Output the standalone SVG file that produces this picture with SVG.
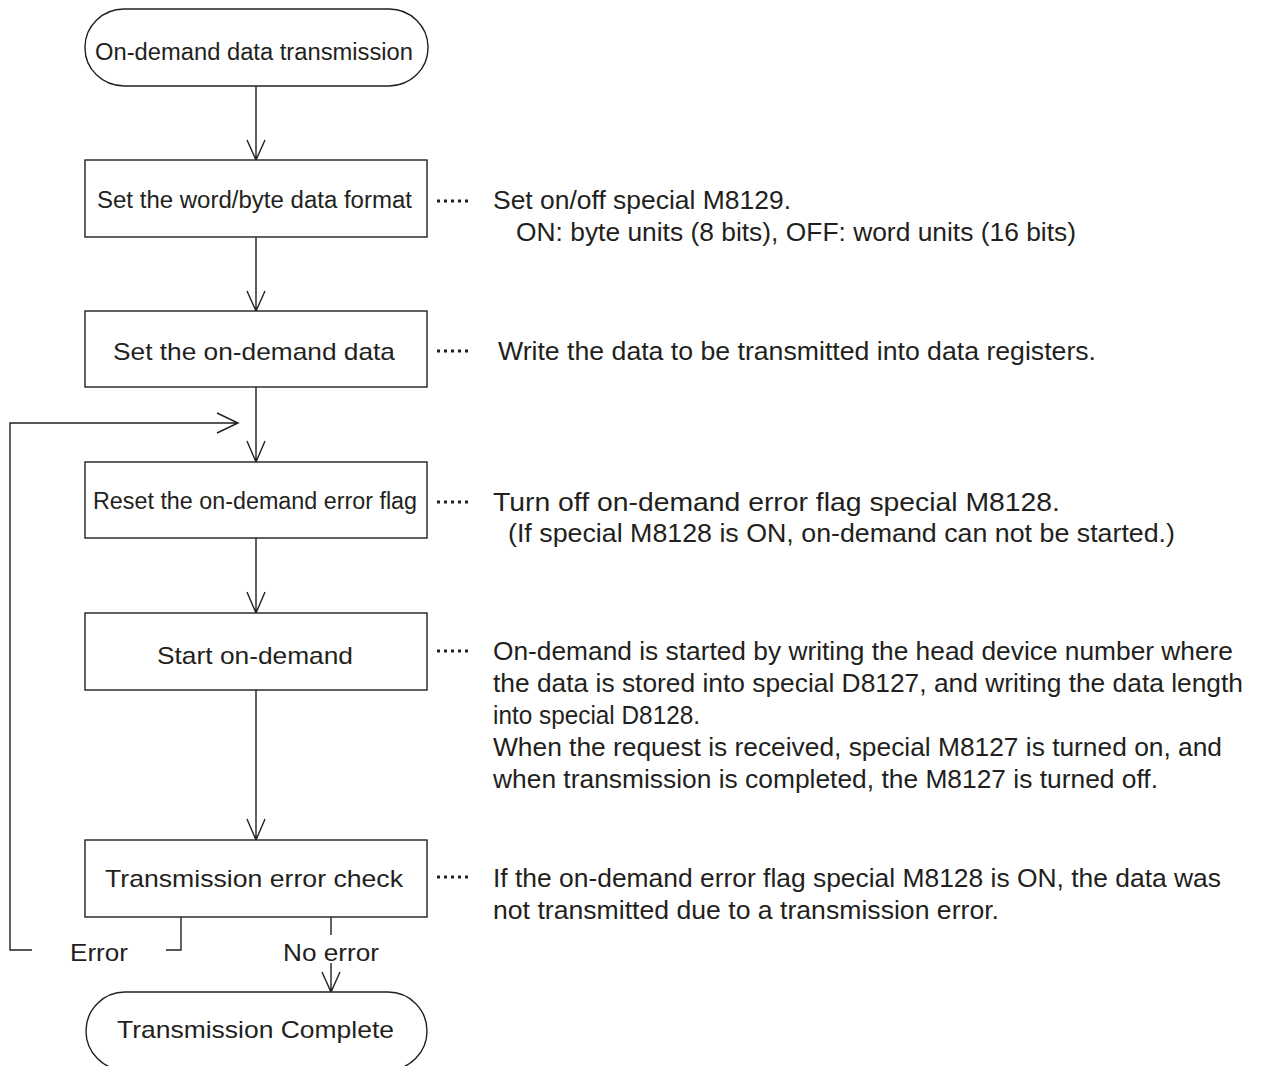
<svg xmlns="http://www.w3.org/2000/svg" width="1261" height="1066" viewBox="0 0 1261 1066">
<style>
.shape{fill:#fff;stroke:#231f20;stroke-width:1.4}
.ln{fill:none;stroke:#231f20;stroke-width:1.4}
.dots{fill:none;stroke:#231f20;stroke-width:3;stroke-dasharray:3 4}
text{font-family:"Liberation Sans",Arial,sans-serif;fill:#231f20}
.n{font-size:23.5px}
.b{font-size:24px}
.d{font-size:25px}
</style>
<rect width="1261" height="1066" fill="#fff"/>
<g id="connectors">
<path class="ln" d="M256 86 V160 M247 140 L256 160 L265 140"/>
<path class="ln" d="M256 237 V311 M247 291 L256 311 L265 291"/>
<path class="ln" d="M256 387 V462 M247 441 L256 462 L265 441"/>
<path class="ln" d="M256 538 V613 M247 592 L256 613 L265 592"/>
<path class="ln" d="M256 690 V840 M247 819 L256 840 L265 819"/>
<path class="ln" d="M181 917 V950 H166"/>
<path class="ln" d="M32 950 H10 V423 H238 M217 413 L238 423 L217 433"/>
<path class="ln" d="M331 917 V935 M331 963 V992 M322 972 L331 992 L340 972"/>
<text class="b" x="70" y="961" textLength="58" lengthAdjust="spacingAndGlyphs">Error</text>
<text class="b" x="283" y="961" textLength="96" lengthAdjust="spacingAndGlyphs">No error</text>
</g>
<g id="start">
<rect class="shape" x="85" y="9" width="343" height="77" rx="39" ry="38"/>
<text class="n" x="95" y="60" textLength="318" lengthAdjust="spacingAndGlyphs">On-demand data transmission</text>
</g>
<g id="format">
<rect class="shape" x="85" y="160" width="342" height="77"/>
<text class="n" x="97" y="208" textLength="315" lengthAdjust="spacingAndGlyphs">Set the word/byte data format</text>
<line class="dots" x1="437" y1="201" x2="469" y2="201"/>
<text class="d" x="493" y="209" textLength="298" lengthAdjust="spacingAndGlyphs">Set on/off special M8129.</text>
<text class="d" x="516" y="241" textLength="560" lengthAdjust="spacingAndGlyphs">ON: byte units (8 bits), OFF: word units (16 bits)</text>
</g>
<g id="setdata">
<rect class="shape" x="85" y="311" width="342" height="76"/>
<text class="b" x="113" y="360" textLength="282" lengthAdjust="spacingAndGlyphs">Set the on-demand data</text>
<line class="dots" x1="437" y1="351" x2="469" y2="351"/>
<text class="d" x="498" y="360" textLength="598" lengthAdjust="spacingAndGlyphs">Write the data to be transmitted into data registers.</text>
</g>
<g id="reset">
<rect class="shape" x="85" y="462" width="342" height="76"/>
<text class="n" x="93" y="509" textLength="324" lengthAdjust="spacingAndGlyphs">Reset the on-demand error flag</text>
<line class="dots" x1="437" y1="502" x2="469" y2="502"/>
<text class="d" x="493" y="511" textLength="567" lengthAdjust="spacingAndGlyphs">Turn off on-demand error flag special M8128.</text>
<text class="d" x="508" y="542" textLength="667" lengthAdjust="spacingAndGlyphs">(If special M8128 is ON, on-demand can not be started.)</text>
</g>
<g id="start-od">
<rect class="shape" x="85" y="613" width="342" height="77"/>
<text class="b" x="157" y="664" textLength="196" lengthAdjust="spacingAndGlyphs">Start on-demand</text>
<line class="dots" x1="437" y1="651" x2="469" y2="651"/>
<text class="d" x="493" y="660" textLength="740" lengthAdjust="spacingAndGlyphs">On-demand is started by writing the head device number where</text>
<text class="d" x="493" y="692" textLength="750" lengthAdjust="spacingAndGlyphs">the data is stored into special D8127, and writing the data length</text>
<text class="d" x="493" y="724" textLength="207" lengthAdjust="spacingAndGlyphs">into special D8128.</text>
<text class="d" x="493" y="756" textLength="729" lengthAdjust="spacingAndGlyphs">When the request is received, special M8127 is turned on, and</text>
<text class="d" x="493" y="788" textLength="665" lengthAdjust="spacingAndGlyphs">when transmission is completed, the M8127 is turned off.</text>
</g>
<g id="check">
<rect class="shape" x="85" y="840" width="342" height="77"/>
<text class="b" x="105" y="887" textLength="298" lengthAdjust="spacingAndGlyphs">Transmission error check</text>
<line class="dots" x1="437" y1="877" x2="469" y2="877"/>
<text class="d" x="493" y="887" textLength="728" lengthAdjust="spacingAndGlyphs">If the on-demand error flag special M8128 is ON, the data was</text>
<text class="d" x="493" y="919" textLength="506" lengthAdjust="spacingAndGlyphs">not transmitted due to a transmission error.</text>
</g>
<g id="complete">
<rect class="shape" x="86" y="992" width="341" height="78" rx="39" ry="39"/>
<text class="b" x="117" y="1038" textLength="277" lengthAdjust="spacingAndGlyphs">Transmission Complete</text>
</g>
</svg>
